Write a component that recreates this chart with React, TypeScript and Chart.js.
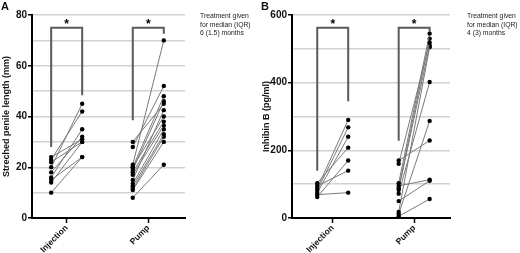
import React, { useEffect, useRef } from 'react';
import { Chart, registerables } from 'chart.js';
Chart.register(...registerables);

// ---------- data ----------
const CATEGORIES = ['Injection', 'Pump'];

// Panel A: stretched penile length (mm)
const A_INJ_BEFORE = [24, 23, 22, 20, 18, 16, 15, 14, 10];
const A_INJ_AFTER = [31, 42, 30, 45, 32, 35, 24, 30, 24];
const A_PUMP_BEFORE = [30, 28, 21, 20, 20, 19, 18, 17, 15, 13.5, 12.5, 11.5, 11, 8];
const A_PUMP_AFTER = [45, 52, 70, 48, 40, 46, 38, 36.5, 42.5, 35, 33, 32, 30, 21];
// brackets: [left leg start, top, right leg end] per category
const A_BRACKETS = [[28, 75, 48.4], [38.5, 75, 72.6]];
const A_STAR = 77;
const A_TICKS = [0, 20, 40, 60, 80];

// Panel B: Inhibin B (pg/ml)
const B_INJ_BEFORE = [103, 95, 88, 81, 74, 69, 62];
const B_INJ_AFTER = [208, 140, 290, 268, 240, 75, 170];
const B_PUMP_BEFORE = [170, 160, 103, 95, 88, 83, 72, 50, 18, 12, 5];
const B_PUMP_AFTER = [229, 518, 545, 113, 530, 510, 402, 110, 505, 287, 56];
const B_BRACKETS = [[140, 562, 345], [228, 562, 550]];
const B_STAR = 578;
const B_TICKS = [0, 200, 400, 600];

const NOTE_LINES_A = ['Treatment given', 'for median (IQR)', '6 (1.5) months'];
const NOTE_LINES_B = ['Treatment given', 'for median (IQR)', '4 (3) months'];

const OFF = 0.19;
const FONT = "'Liberation Sans', Arial, sans-serif";

type PanelCfg = {
  injBefore: number[]; injAfter: number[]; pumpBefore: number[]; pumpAfter: number[];
  brackets: number[][]; star: number; ticks: number[]; step: number;
  xMin: number; xMax: number; title: string; padRight: number;
};

function buildDatasets(c: PanelCfg) {
  const ds: any[] = [];
  c.brackets.forEach((b, i) => {
    const cx = i + 1;
    ds.push({
      data: [
        { x: cx - OFF, y: b[0] }, { x: cx - OFF, y: b[1] },
        { x: cx + OFF, y: b[1] }, { x: cx + OFF, y: b[2] },
      ],
      showLine: true, borderColor: '#5a5a5a', borderWidth: 2, pointRadius: 0,
      borderCapStyle: 'butt', borderJoinStyle: 'miter',
    });
  });
  const pairs = (before: number[], after: number[], cx: number) => {
    before.forEach((v, i) => {
      ds.push({
        data: [{ x: cx - OFF, y: v }, { x: cx + OFF, y: after[i] }],
        showLine: true, borderColor: '#7a7a7a', borderWidth: 1,
        pointRadius: 2.2, pointBackgroundColor: '#000', pointBorderWidth: 0,
      });
    });
  };
  pairs(c.injBefore, c.injAfter, 1);
  pairs(c.pumpBefore, c.pumpAfter, 2);
  return ds;
}

function Panel({ cfg, left }: { cfg: PanelCfg; left: number }) {
  const ref = useRef<HTMLCanvasElement>(null);
  useEffect(() => {
    const starPlugin = {
      id: 'stars',
      afterDatasetsDraw(chart: any) {
        const { ctx, scales } = chart;
        ctx.save();
        ctx.fillStyle = '#000';
        ctx.font = `bold 12px ${FONT}`;
        ctx.textAlign = 'center';
        ctx.textBaseline = 'middle';
        [1, 2].forEach((cx) => {
          ctx.fillText('*', scales.x.getPixelForValue(cx), scales.y.getPixelForValue(cfg.star) + 2);
        });
        ctx.restore();
      },
    };
    const chart = new Chart(ref.current!, {
      type: 'scatter',
      data: { datasets: buildDatasets(cfg) },
      plugins: [starPlugin],
      options: {
        animation: false,
        responsive: false,
        maintainAspectRatio: false,
        layout: { padding: { top: 15, right: cfg.padRight, left: 0, bottom: 0 } },
        plugins: { legend: { display: false }, tooltip: { enabled: false } },
        scales: {
          x: {
            type: 'linear',
            min: cfg.xMin, max: cfg.xMax,
            afterBuildTicks: (s: any) => { s.ticks = [{ value: 1 }, { value: 2 }]; },
            afterFit: (s: any) => { s.height = 35; },
            ticks: {
              autoSkip: false,
              minRotation: 45, maxRotation: 45,
              padding: 0,
              color: '#111',
              font: { family: FONT, size: 8.5, weight: 'bold' },
              callback: (v: any) => CATEGORIES[Number(v) - 1] ?? '',
            },
            grid: { drawOnChartArea: false, drawTicks: true, tickLength: 5, tickColor: '#000', tickWidth: 1.5 },
            border: { color: '#000', width: 2 },
          },
          y: {
            min: 0, max: cfg.ticks[cfg.ticks.length - 1],
            afterFit: (s: any) => { s.width = 32; },
            ticks: {
              stepSize: cfg.step,
              padding: 1,
              color: '#111',
              font: { family: FONT, size: 10, weight: 'bold' },
              callback: (v: any) => (cfg.ticks.includes(Number(v)) ? String(v) : ''),
            },
            grid: {
              color: (ctx: any) => (ctx.tick && ctx.tick.value === 0 ? 'rgba(0,0,0,0)' : '#d2d2d2'),
              lineWidth: 1.5,
              tickLength: 4,
              tickColor: (ctx: any) => (ctx.tick && cfg.ticks.includes(ctx.tick.value) ? '#000' : 'rgba(0,0,0,0)'),
              tickWidth: 1.5,
            },
            border: { color: '#000', width: 2 },
            title: {
              display: true, text: cfg.title, color: '#111',
              font: { family: FONT, size: 9, weight: 'bold' },
              padding: { top: 1.5, bottom: 0 },
            },
          },
        },
      } as any,
    });
    return () => chart.destroy();
  }, []);
  return (
    <canvas ref={ref} width={260} height={253}
      style={{ position: 'absolute', left, top: 0, width: 260, height: 253 }} />
  );
}

const cfgA: PanelCfg = {
  injBefore: A_INJ_BEFORE, injAfter: A_INJ_AFTER, pumpBefore: A_PUMP_BEFORE, pumpAfter: A_PUMP_AFTER,
  brackets: A_BRACKETS, star: A_STAR, ticks: A_TICKS, step: 10,
  xMin: 0.575, xMax: 2.45, title: 'Streched penile length (mm)', padRight: 75,
};
const cfgB: PanelCfg = {
  injBefore: B_INJ_BEFORE, injAfter: B_INJ_AFTER, pumpBefore: B_PUMP_BEFORE, pumpAfter: B_PUMP_AFTER,
  brackets: B_BRACKETS, star: B_STAR, ticks: B_TICKS, step: 100,
  xMin: 0.5, xMax: 2.44, title: 'Inhibin B (pg/ml)', padRight: 70,
};

function Note({ lines, left }: { lines: string[]; left: number }) {
  return (
    <div style={{ position: 'absolute', left, top: 12, fontFamily: FONT, fontSize: 6.8, lineHeight: '8.5px', color: '#222', whiteSpace: 'nowrap' }}>
      {lines.map((l, i) => <div key={i}>{l}</div>)}
    </div>
  );
}

export default function App() {
  return (
    <div style={{ position: 'fixed', left: 0, top: 0, width: 520, height: 253, background: '#fff', overflow: 'hidden' }}>
      <Panel cfg={cfgA} left={0} />
      <Panel cfg={cfgB} left={260} />
      <div style={{ position: 'absolute', left: 1, top: 0, fontFamily: FONT, fontWeight: 'bold', fontSize: 11, color: '#111' }}>A</div>
      <div style={{ position: 'absolute', left: 261, top: 0, fontFamily: FONT, fontWeight: 'bold', fontSize: 11, color: '#111' }}>B</div>
      <Note lines={NOTE_LINES_A} left={200} />
      <Note lines={NOTE_LINES_B} left={467} />
    </div>
  );
}
